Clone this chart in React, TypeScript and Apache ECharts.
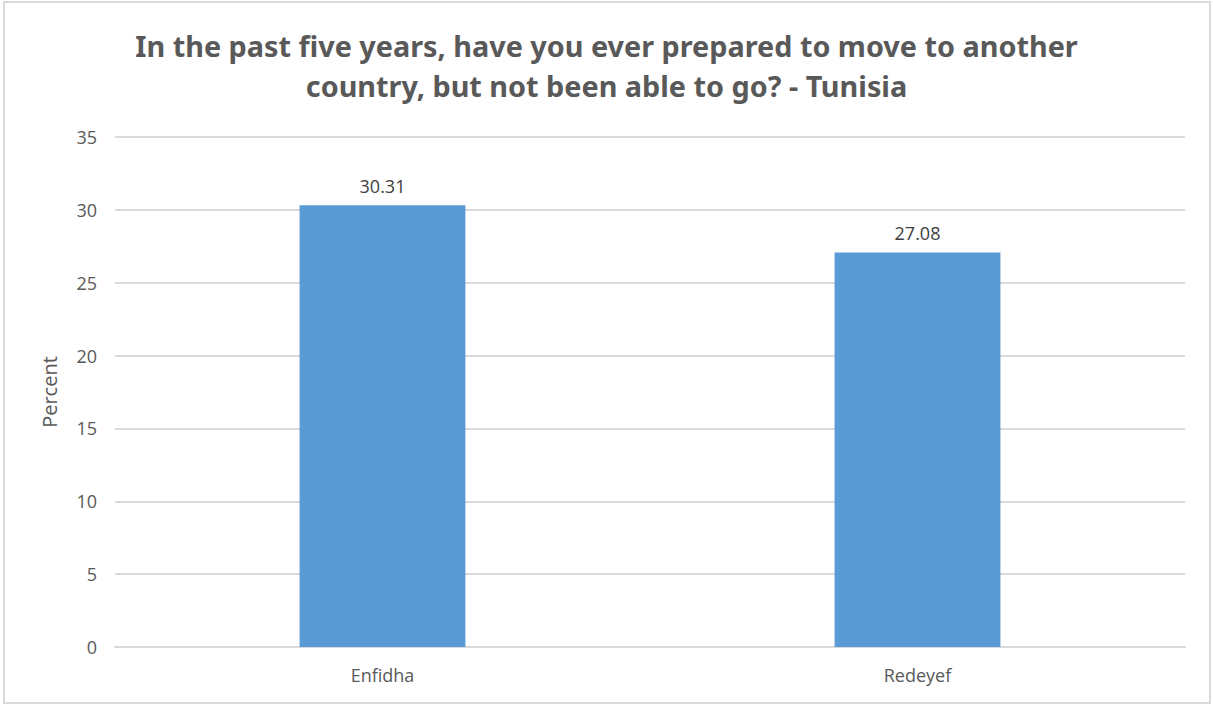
import React, { useEffect, useRef } from "react";
import * as echarts from "echarts";

const categories = ["Enfidha", "Redeyef"];
const values = [30.31, 27.08];
const titleText = "In the past five years, have you ever prepared to move to another\ncountry, but not been able to go? - Tunisia";
const yAxisName = "Percent";

export default function App() {
  const ref = useRef<HTMLDivElement>(null);
  useEffect(() => {
    const chart = echarts.init(ref.current!, null, { renderer: "svg" });
    chart.setOption({
      animation: false,
      backgroundColor: "#ffffff",
      title: {
        text: titleText,
        left: "center",
        top: 20,
        textStyle: {
          fontFamily: "Noto Sans",
          fontSize: 28.8,
          fontWeight: "bold",
          color: "#595959",
          lineHeight: 40,
        },
      },
      graphic: [
        {
          type: "rect",
          shape: { x: 4, y: 2, width: 1206, height: 701 },
          style: { fill: "none", stroke: "#d9d9d9", lineWidth: 2 },
          silent: true,
        },
      ],
      grid: { left: 115, right: 28, top: 137, bottom: 59 },
      xAxis: {
        type: "category",
        data: categories,
        axisLine: { lineStyle: { color: "#d9d9d9", width: 2 } },
        axisTick: { show: false },
        axisLabel: { color: "#595959", fontSize: 18, fontFamily: "Open Sans", margin: 19 },
      },
      yAxis: {
        type: "value",
        min: 0,
        max: 35,
        interval: 5,
        name: yAxisName,
        nameLocation: "middle",
        nameGap: 56,
        nameTextStyle: { color: "#595959", fontSize: 20, fontFamily: "Open Sans" },
        axisLine: { show: false },
        axisTick: { show: false },
        splitLine: { lineStyle: { color: "#d9d9d9", width: 2 } },
        axisLabel: { color: "#595959", fontSize: 18, fontFamily: "Open Sans", margin: 18 },
      },
      series: [
        {
          type: "bar",
          data: values,
          barWidth: "31%",
          itemStyle: { color: "#5b9bd5" },
          label: {
            show: true,
            position: "top",
            distance: 10,
            color: "#404040",
            fontSize: 18,
            fontFamily: "Open Sans",
            formatter: (p: any) => p.value.toFixed(2),
          },
        },
      ],
    });
    return () => chart.dispose();
  }, []);
  return (
    <div
      ref={ref}
      style={{ position: "fixed", left: 0, top: 0, width: 1213, height: 706 }}
    />
  );
}
